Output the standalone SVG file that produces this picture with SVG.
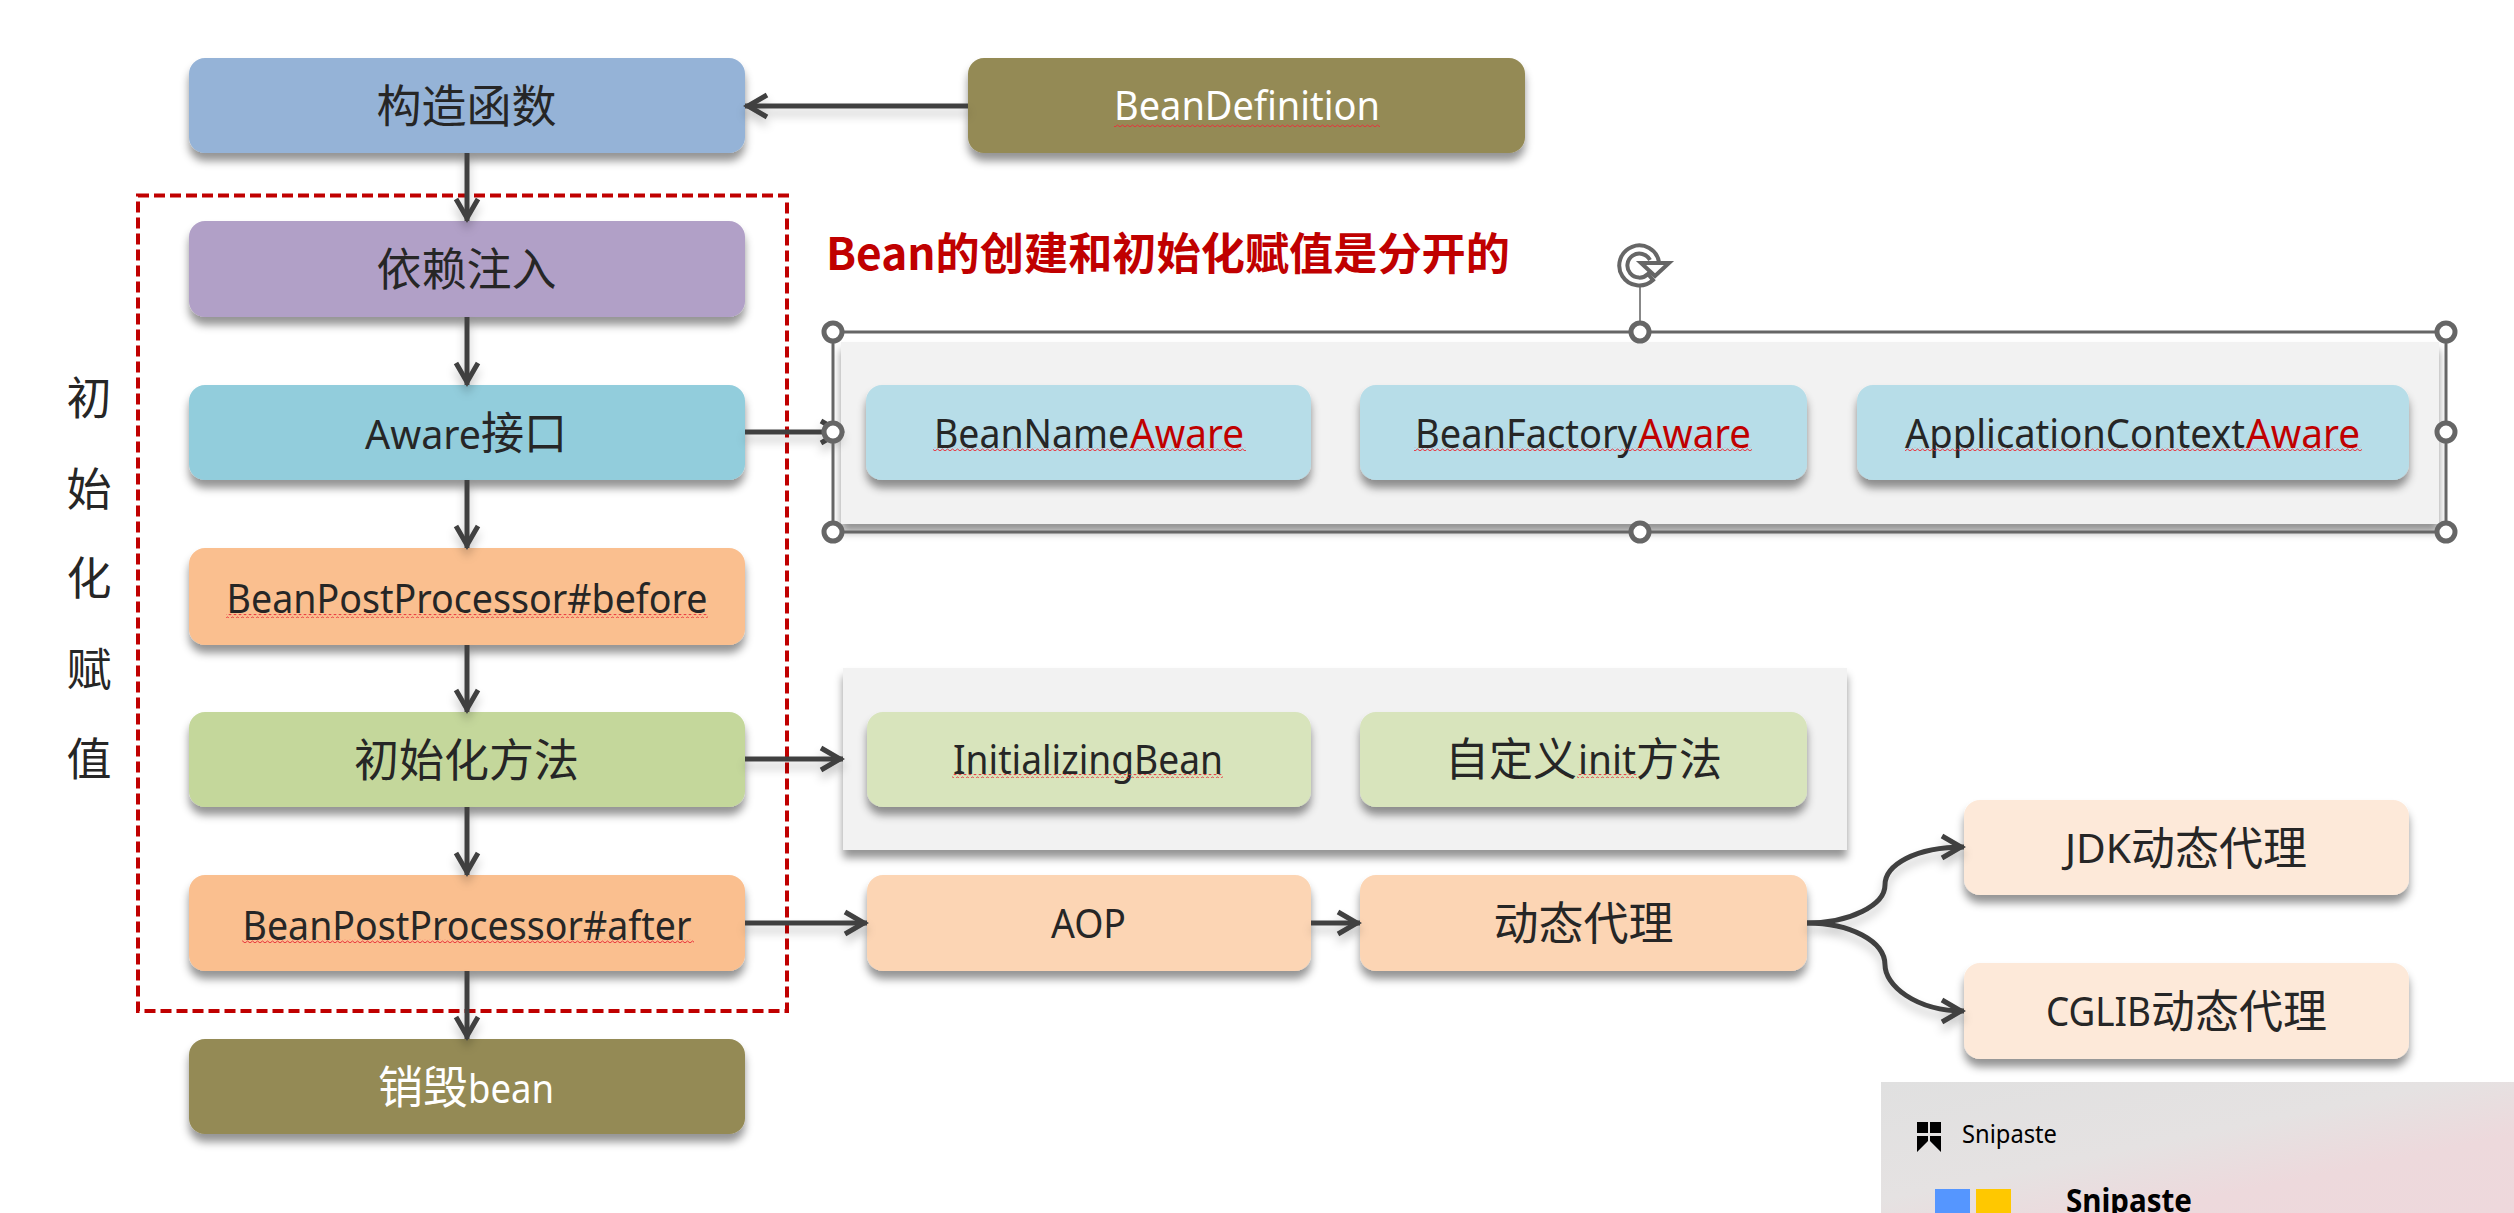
<svg xmlns="http://www.w3.org/2000/svg" width="2514" height="1213" viewBox="0 0 2514 1213">
<style>
text{font-family:"Noto Sans","Noto Sans CJK SC",sans-serif;font-size:40px;fill:#262626;text-anchor:middle}
.s{text-anchor:start}
.cjk{font-family:"Noto Sans CJK SC",sans-serif;font-size:45px}
.w{fill:#fff}.r{fill:#c00000}
.node{filter:url(#sh)}
.c{fill:none;stroke:#404040;stroke-width:5;marker-end:url(#ah)}
.h{fill:#fff;stroke:#666;stroke-width:5}
.sq{fill:url(#sq)}
</style>
<defs>
<filter id="sh" x="-10%" y="-20%" width="120%" height="150%"><feDropShadow dx="0" dy="8" stdDeviation="4.500" flood-color="#000" flood-opacity=".42"/></filter>
<filter id="ls" filterUnits="userSpaceOnUse" x="0" y="0" width="2514" height="1213"><feDropShadow dx="0" dy="7" stdDeviation="5" flood-color="#000" flood-opacity=".22"/></filter>
<marker id="ah" markerUnits="userSpaceOnUse" markerWidth="30" markerHeight="30" refX="25" refY="14" orient="auto"><path d="M3 3L22 14L3 25" fill="none" stroke="#404040" stroke-width="5"/></marker>
<pattern id="sq" width="5" height="4" patternUnits="userSpaceOnUse"><path d="M0 3L2.500 1L5 3" fill="none" stroke="#e8303a" stroke-width="1"/></pattern>
<linearGradient id="sn" x1="0" y1="0" x2="1" y2="1"><stop offset="0" stop-color="#e0e0e0"/><stop offset=".45" stop-color="#e5e2e2"/><stop offset=".7" stop-color="#edd9dc"/><stop offset="1" stop-color="#eed8dc"/></linearGradient>
</defs>

<g id="panel-aware"><rect class="node" x="841" y="342" width="1598" height="182" fill="#f2f2f2"/></g>
<g id="panel-init"><rect class="node" x="843" y="668" width="1004" height="182" fill="#f2f2f2"/></g>

<g id="n-ctor"><rect class="node" x="189" y="58" width="556" height="95" rx="16" fill="#95b3d7"/><text class="cjk" x="466.500" y="122.500">构造函数</text></g>
<g id="n-def"><rect class="node" x="968" y="58" width="557" height="95" rx="16" fill="#948a54"/><text class="w" x="1247" y="120" textLength="266" lengthAdjust="spacingAndGlyphs">BeanDefinition</text><rect class="sq" x="1114" y="123" width="266" height="4"/></g>
<g id="n-di"><rect class="node" x="189" y="221" width="556" height="96" rx="16" fill="#b1a0c7"/><text class="cjk" x="466.500" y="285.500">依赖注入</text></g>
<g id="n-aware"><rect class="node" x="189" y="385" width="556" height="95" rx="16" fill="#92cddc"/><text class="s" x="365" y="449" textLength="116" lengthAdjust="spacingAndGlyphs">Aware</text><text class="cjk s" x="481" y="449.500" textLength="86" lengthAdjust="spacingAndGlyphs">接口</text></g>
<g id="n-before"><rect class="node" x="189" y="548" width="556" height="97" rx="16" fill="#fabf8f"/><text x="467" y="612.500" textLength="481" lengthAdjust="spacingAndGlyphs">BeanPostProcessor#before</text><rect class="sq" x="226" y="614" width="482" height="4"/></g>
<g id="n-init"><rect class="node" x="189" y="712" width="556" height="95" rx="16" fill="#c4d79b"/><text class="cjk" x="466.500" y="776.500">初始化方法</text></g>
<g id="n-after"><rect class="node" x="189" y="875" width="556" height="96" rx="16" fill="#fabf8f"/><text x="467" y="939.500" textLength="449" lengthAdjust="spacingAndGlyphs">BeanPostProcessor#after</text><rect class="sq" x="242" y="939" width="452" height="4"/></g>
<g id="n-destroy"><rect class="node" x="189" y="1039" width="556" height="95" rx="16" fill="#948a54"/><text class="cjk w s" x="378" y="1104" textLength="90" lengthAdjust="spacingAndGlyphs">销毁</text><text class="w s" x="468" y="1103" textLength="86" lengthAdjust="spacingAndGlyphs">bean</text></g>

<g id="n-bna"><rect class="node" x="866" y="385" width="445" height="95" rx="16" fill="#b7dde8"/><text class="s" x="934" y="448" textLength="195" lengthAdjust="spacingAndGlyphs">BeanName</text><text class="r s" x="1130" y="448" textLength="114" lengthAdjust="spacingAndGlyphs">Aware</text><rect class="sq" x="933" y="447" width="313" height="4"/></g>
<g id="n-bfa"><rect class="node" x="1360" y="385" width="447" height="95" rx="16" fill="#b7dde8"/><text class="s" x="1415" y="448" textLength="222" lengthAdjust="spacingAndGlyphs">BeanFactory</text><text class="r s" x="1638" y="448" textLength="113" lengthAdjust="spacingAndGlyphs">Aware</text><rect class="sq" x="1414" y="447" width="338" height="4"/></g>
<g id="n-aca"><rect class="node" x="1857" y="385" width="552" height="95" rx="16" fill="#b7dde8"/><text class="s" x="1905" y="448" textLength="340" lengthAdjust="spacingAndGlyphs">ApplicationContext</text><text class="r s" x="2246" y="448" textLength="114" lengthAdjust="spacingAndGlyphs">Aware</text><rect class="sq" x="1905" y="447" width="457" height="4"/></g>

<g id="n-ib"><rect class="node" x="867" y="712" width="444" height="95" rx="16" fill="#d8e4bc"/><text x="1088" y="774" textLength="270" lengthAdjust="spacingAndGlyphs">InitializingBean</text><rect class="sq" x="952" y="774" width="271" height="4"/></g>
<g id="n-ci"><rect class="node" x="1360" y="712" width="447" height="95" rx="16" fill="#d8e4bc"/><text class="cjk s" x="1445" y="776" textLength="132" lengthAdjust="spacingAndGlyphs">自定义</text><text class="s" x="1578" y="774" textLength="58" lengthAdjust="spacingAndGlyphs">init</text><text class="cjk s" x="1636" y="776" textLength="86" lengthAdjust="spacingAndGlyphs">方法</text><rect class="sq" x="1577" y="774" width="60" height="4"/></g>
<g id="n-aop"><rect class="node" x="867" y="875" width="444" height="96" rx="16" fill="#fcd5b4"/><text x="1088.500" y="938" textLength="75" lengthAdjust="spacingAndGlyphs">AOP</text></g>
<g id="n-proxy"><rect class="node" x="1360" y="875" width="447" height="96" rx="16" fill="#fcd5b4"/><text class="cjk" x="1583.500" y="940">动态代理</text></g>
<g id="n-jdk"><rect class="node" x="1964" y="800" width="445" height="95" rx="16" fill="#fde9d9"/><text class="s" x="2065" y="863" textLength="66" lengthAdjust="spacingAndGlyphs">JDK</text><text class="cjk s" x="2131" y="865" textLength="176" lengthAdjust="spacingAndGlyphs">动态代理</text></g>
<g id="n-cglib"><rect class="node" x="1964" y="963" width="445" height="96" rx="16" fill="#fde9d9"/><text class="s" x="2046" y="1026" textLength="105" lengthAdjust="spacingAndGlyphs">CGLIB</text><text class="cjk s" x="2151" y="1028" textLength="176" lengthAdjust="spacingAndGlyphs">动态代理</text></g>

<g id="label-init">
<text class="cjk" x="89" y="415">初</text>
<text class="cjk" x="89" y="506">始</text>
<text class="cjk" x="89" y="595">化</text>
<text class="cjk" x="89" y="686">赋</text>
<text class="cjk" x="89" y="776">值</text>
</g>
<g id="dash"><rect x="138" y="195.500" width="649" height="815.500" fill="none" stroke="#c00000" stroke-width="4" stroke-dasharray="11 5"/></g>

<g id="connectors" filter="url(#ls)">
<path class="c" d="M968 106H745"/>
<path class="c" d="M467 153V221"/>
<path class="c" d="M467 317V385"/>
<path class="c" d="M467 480V548"/>
<path class="c" d="M467 645V712"/>
<path class="c" d="M467 807V875"/>
<path class="c" d="M467 971V1039"/>
<path class="c" d="M745 432H843"/>
<path class="c" d="M745 759H843"/>
<path class="c" d="M745 923H867"/>
<path class="c" d="M1311 923H1360"/>
<path class="c" d="M1807 923C1850 923 1885 905 1885 885C1885 865 1915 847 1964 847"/>
<path class="c" d="M1807 923C1850 923 1885 941 1885 965C1885 985 1915 1011 1964 1011"/>
</g>

<g id="title"><text class="r s" x="826" y="270" style="font-family:'Noto Sans CJK SC',sans-serif;font-weight:700;font-size:44px" textLength="684" lengthAdjust="spacingAndGlyphs">Bean的创建和初始化赋值是分开的</text></g>

<g id="selection">
<rect x="833" y="332" width="1613" height="200" fill="none" stroke="#666" stroke-width="3"/>
<path d="M1640 285V332" stroke="#888" stroke-width="2" fill="none"/>
<circle class="h" cx="833" cy="332" r="9"/><circle class="h" cx="1640" cy="332" r="9"/><circle class="h" cx="2446" cy="332" r="9"/>
<circle class="h" cx="833" cy="432" r="9"/><circle class="h" cx="2446" cy="432" r="9"/>
<circle class="h" cx="833" cy="532" r="9"/><circle class="h" cx="1640" cy="532" r="9"/><circle class="h" cx="2446" cy="532" r="9"/>
<g fill="none" stroke="#666" stroke-width="4"><path d="M1659 262A20 20 0 1 0 1653 280L1648 274A12 12 0 1 1 1650 260"/><path d="M1641 263H1669L1655 276Z" fill="#fff"/></g>
</g>

<g id="snipaste">
<rect x="1881" y="1082" width="633" height="131" fill="url(#sn)"/>
<path d="M1917 1122h11v11h-11zM1930 1122h11v11h-11zM1917 1136h11v5l-11 11zM1930 1136h11v16l-11-11z" fill="#000"/>
<text class="s" x="1962" y="1143" style="font-size:25px;fill:#000" textLength="95" lengthAdjust="spacingAndGlyphs">Snipaste</text>
<rect x="1935" y="1189" width="35" height="24" fill="#5596ff"/>
<rect x="1976" y="1189" width="35" height="24" fill="#ffc800"/>
<text class="s" x="2066" y="1212" style="font-size:32px;font-weight:700;fill:#000" textLength="126" lengthAdjust="spacingAndGlyphs">Snipaste</text>
</g>
</svg>
